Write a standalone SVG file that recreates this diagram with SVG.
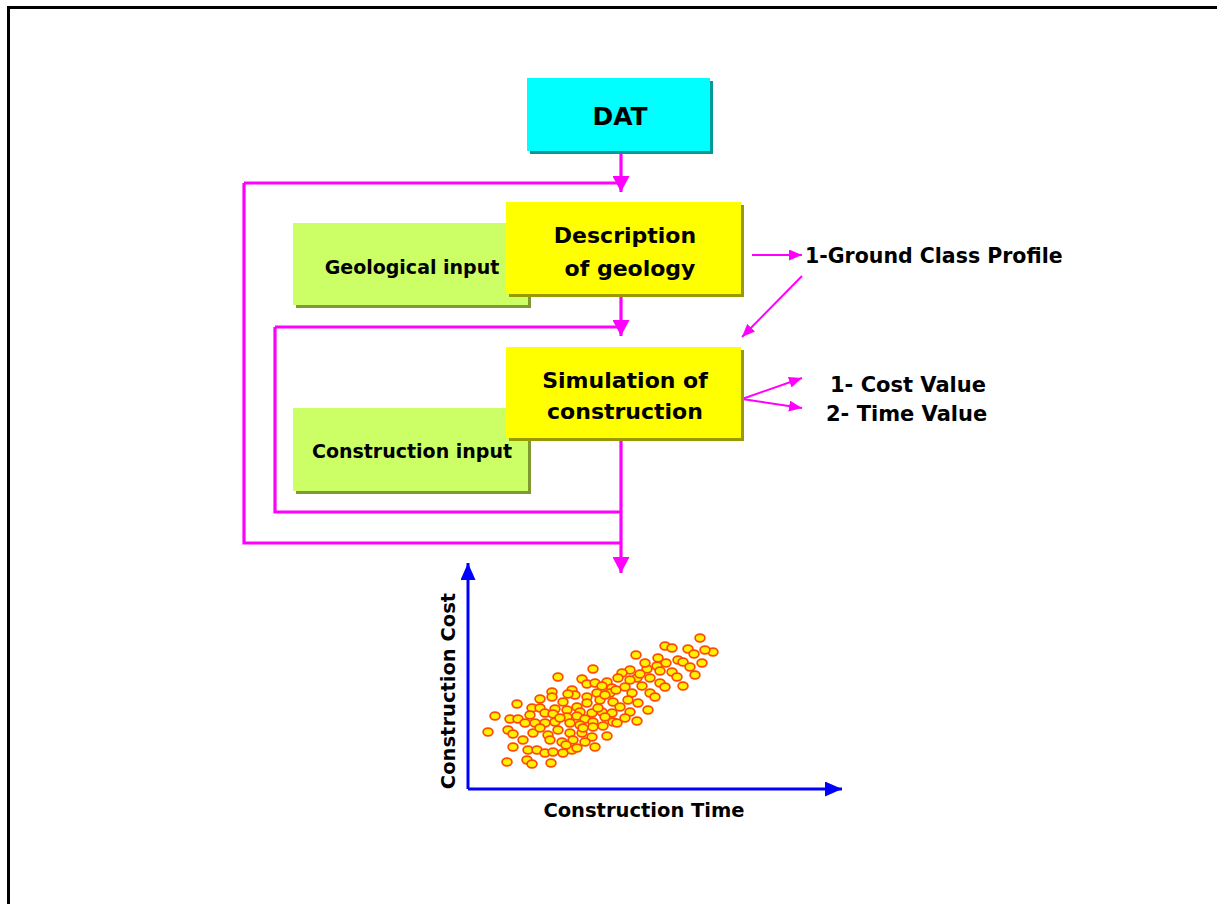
<svg xmlns="http://www.w3.org/2000/svg" width="1217" height="904" viewBox="0 0 1217 904">
<style>
.t{font-family:"DejaVu Sans","Liberation Sans",sans-serif;font-weight:bold;fill:#000}
.pk{stroke:#FF00FF;stroke-width:3.2;fill:none}
.pks{stroke:#FF00FF;stroke-width:2;fill:none}
.bl{stroke:#0000FF;stroke-width:3;fill:none}
.dot{fill:#FFF200;stroke:#FF4A00;stroke-width:1.7}
</style>
<defs>
<marker id="ab" markerUnits="userSpaceOnUse" markerWidth="16" markerHeight="17" refX="16" refY="8.5" orient="auto"><path d="M0,0 L16,8.5 L0,17 z" fill="#FF00FF"/></marker>
<marker id="as" markerUnits="userSpaceOnUse" markerWidth="13" markerHeight="11" refX="13" refY="5.5" orient="auto"><path d="M0,0 L13,5.5 L0,11 z" fill="#FF00FF"/></marker>
<marker id="ax" markerUnits="userSpaceOnUse" markerWidth="17" markerHeight="15" refX="17" refY="7.5" orient="auto"><path d="M0,0 L17,7.5 L0,15 z" fill="#0000FF"/></marker>
<ellipse id="d" rx="4.9" ry="3.9" class="dot"/>
</defs>
<rect width="1217" height="904" fill="#fff"/>
<path d="M8.5,904 V7.5 H1217" stroke="#000" stroke-width="3" fill="none"/>

<g id="geological-input">
<rect x="296" y="226" width="235" height="82" fill="#7F9933"/>
<rect x="293" y="223" width="235" height="82" fill="#CCFF66"/>
<text class="t" x="412" y="274" font-size="19" text-anchor="middle">Geological input</text>
</g>
<g id="construction-input">
<rect x="296" y="411" width="235" height="83" fill="#7F9933"/>
<rect x="293" y="408" width="235" height="83" fill="#CCFF66"/>
<text class="t" x="412" y="458" font-size="19" text-anchor="middle">Construction input</text>
</g>

<g id="connectors">
<path class="pk" d="M621,151 V192" marker-end="url(#ab)"/>
<path class="pk" d="M244,183 H621"/>
<path class="pk" d="M244,183 V543 H621"/>
<path class="pk" d="M621,294 V336" marker-end="url(#ab)"/>
<path class="pk" d="M275,327 H621"/>
<path class="pk" d="M275,327 V512 H621"/>
<path class="pk" d="M621,438 V573" marker-end="url(#ab)"/>
<path class="pks" d="M752,255 H802" marker-end="url(#as)"/>
<path class="pks" d="M802,276 L742,337" marker-end="url(#as)"/>
<path class="pks" d="M742,399 L802,378" marker-end="url(#as)"/>
<path class="pks" d="M742,399 L802,408" marker-end="url(#as)"/>
</g>

<g id="dat">
<rect x="530" y="81" width="183" height="73" fill="#009999"/>
<rect x="527" y="78" width="183" height="73" fill="#00FFFF"/>
<text class="t" x="620" y="125" font-size="25" text-anchor="middle">DAT</text>
</g>
<g id="description-of-geology">
<rect x="509" y="205" width="235" height="92" fill="#999900"/>
<rect x="506" y="202" width="235" height="92" fill="#FFFF00"/>
<text class="t" x="625" y="243" font-size="22" text-anchor="middle">Description</text>
<text class="t" x="630" y="276" font-size="22" text-anchor="middle">of geology</text>
</g>
<g id="simulation-of-construction">
<rect x="509" y="350" width="235" height="91" fill="#999900"/>
<rect x="506" y="347" width="235" height="91" fill="#FFFF00"/>
<text class="t" x="625" y="388" font-size="22" text-anchor="middle">Simulation of</text>
<text class="t" x="625" y="419" font-size="22" text-anchor="middle">construction</text>
</g>

<g id="ground-class-profile">
<text class="t" x="805" y="263" font-size="20.5">1-Ground Class Profile</text>
</g>
<g id="values">
<text class="t" x="830" y="392" font-size="21">1- Cost Value</text>
<text class="t" x="826" y="421" font-size="21">2- Time Value</text>
</g>

<g id="chart">
<path class="bl" d="M468,789 V563" marker-end="url(#ax)"/>
<path class="bl" d="M468,789 H842" marker-end="url(#ax)"/>
<text class="t" x="644" y="817" font-size="19.5" text-anchor="middle">Construction Time</text>
<text class="t" transform="translate(455,691) rotate(-90)" font-size="19.5" text-anchor="middle">Construction Cost</text>
<g id="scatter">
<use href="#d" x="700" y="638"/><use href="#d" x="665" y="646"/><use href="#d" x="672" y="648"/><use href="#d" x="688" y="649"/><use href="#d" x="713" y="652"/><use href="#d" x="694" y="654"/><use href="#d" x="636" y="655"/><use href="#d" x="658" y="658"/><use href="#d" x="678" y="660"/><use href="#d" x="683" y="662"/><use href="#d" x="702" y="663"/><use href="#d" x="666" y="663"/><use href="#d" x="657" y="666"/><use href="#d" x="647" y="669"/><use href="#d" x="593" y="669"/><use href="#d" x="630" y="670"/><use href="#d" x="622" y="673"/><use href="#d" x="672" y="672"/><use href="#d" x="695" y="675"/><use href="#d" x="677" y="677"/><use href="#d" x="558" y="677"/><use href="#d" x="582" y="679"/><use href="#d" x="607" y="682"/><use href="#d" x="618" y="678"/><use href="#d" x="637" y="678"/><use href="#d" x="650" y="678"/><use href="#d" x="660" y="683"/><use href="#d" x="683" y="686"/><use href="#d" x="665" y="687"/><use href="#d" x="587" y="684"/><use href="#d" x="595" y="683"/><use href="#d" x="602" y="686"/><use href="#d" x="612" y="688"/><use href="#d" x="625" y="687"/><use href="#d" x="642" y="686"/><use href="#d" x="572" y="690"/><use href="#d" x="552" y="692"/><use href="#d" x="552" y="697"/><use href="#d" x="575" y="695"/><use href="#d" x="587" y="697"/><use href="#d" x="597" y="693"/><use href="#d" x="610" y="693"/><use href="#d" x="632" y="693"/><use href="#d" x="650" y="693"/><use href="#d" x="655" y="697"/><use href="#d" x="540" y="699"/><use href="#d" x="563" y="702"/><use href="#d" x="577" y="707"/><use href="#d" x="587" y="703"/><use href="#d" x="600" y="700"/><use href="#d" x="613" y="702"/><use href="#d" x="628" y="700"/><use href="#d" x="638" y="703"/><use href="#d" x="517" y="704"/><use href="#d" x="532" y="708"/><use href="#d" x="540" y="708"/><use href="#d" x="555" y="709"/><use href="#d" x="567" y="710"/><use href="#d" x="580" y="712"/><use href="#d" x="592" y="713"/><use href="#d" x="602" y="712"/><use href="#d" x="612" y="713"/><use href="#d" x="620" y="707"/><use href="#d" x="630" y="712"/><use href="#d" x="648" y="710"/><use href="#d" x="495" y="716"/><use href="#d" x="510" y="719"/><use href="#d" x="518" y="719"/><use href="#d" x="530" y="715"/><use href="#d" x="545" y="713"/><use href="#d" x="553" y="714"/><use href="#d" x="567" y="717"/><use href="#d" x="577" y="716"/><use href="#d" x="585" y="719"/><use href="#d" x="593" y="722"/><use href="#d" x="605" y="717"/><use href="#d" x="613" y="722"/><use href="#d" x="625" y="718"/><use href="#d" x="637" y="721"/><use href="#d" x="525" y="723"/><use href="#d" x="535" y="723"/><use href="#d" x="545" y="723"/><use href="#d" x="555" y="722"/><use href="#d" x="570" y="723"/><use href="#d" x="580" y="725"/><use href="#d" x="593" y="727"/><use href="#d" x="603" y="726"/><use href="#d" x="617" y="723"/><use href="#d" x="488" y="732"/><use href="#d" x="508" y="730"/><use href="#d" x="513" y="734"/><use href="#d" x="533" y="733"/><use href="#d" x="548" y="735"/><use href="#d" x="558" y="730"/><use href="#d" x="570" y="733"/><use href="#d" x="582" y="733"/><use href="#d" x="592" y="737"/><use href="#d" x="607" y="736"/><use href="#d" x="550" y="740"/><use href="#d" x="562" y="742"/><use href="#d" x="573" y="740"/><use href="#d" x="585" y="742"/><use href="#d" x="513" y="747"/><use href="#d" x="528" y="750"/><use href="#d" x="537" y="750"/><use href="#d" x="545" y="753"/><use href="#d" x="553" y="752"/><use href="#d" x="563" y="753"/><use href="#d" x="572" y="750"/><use href="#d" x="577" y="748"/><use href="#d" x="595" y="747"/><use href="#d" x="507" y="762"/><use href="#d" x="527" y="760"/><use href="#d" x="532" y="764"/><use href="#d" x="551" y="763"/>
<use href="#d" x="645" y="663"/><use href="#d" x="660" y="671"/><use href="#d" x="640" y="674"/><use href="#d" x="616" y="690"/><use href="#d" x="605" y="695"/><use href="#d" x="560" y="718"/><use href="#d" x="540" y="728"/><use href="#d" x="523" y="740"/><use href="#d" x="568" y="694"/><use href="#d" x="690" y="667"/><use href="#d" x="705" y="650"/><use href="#d" x="630" y="680"/><use href="#d" x="598" y="708"/><use href="#d" x="566" y="745"/><use href="#d" x="583" y="728"/>
</g>
</g>
</svg>
